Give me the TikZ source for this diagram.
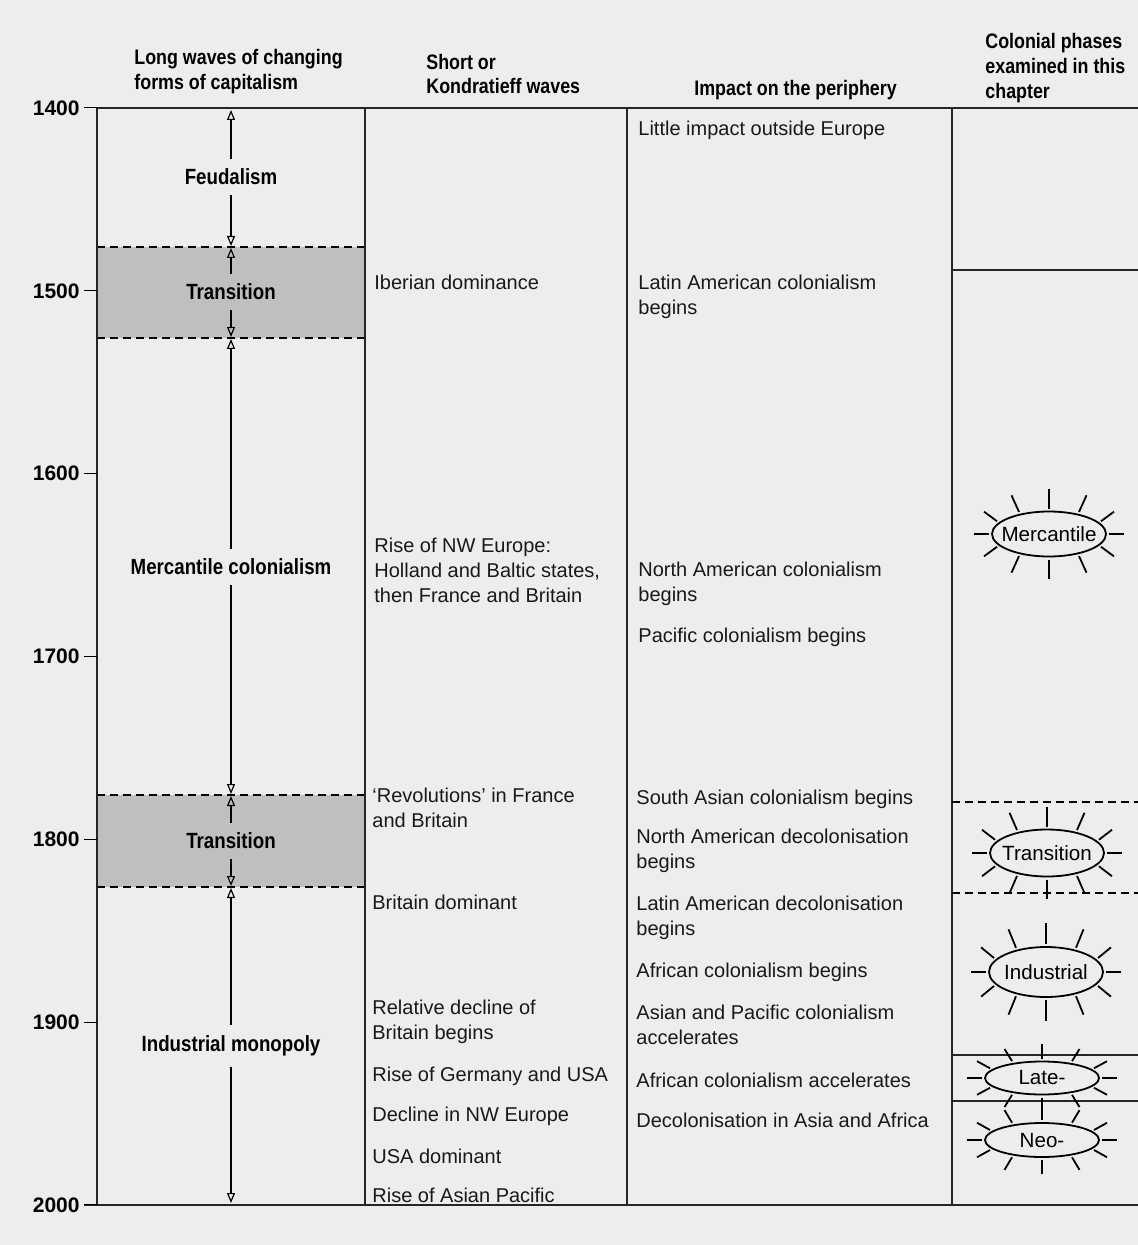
\documentclass[tikz,border=0pt]{standalone}
\usepackage{fontspec}
\setmainfont{Liberation Sans}
\newfontfamily\condfont[FakeStretch=0.85]{Liberation Sans}
\usetikzlibrary{arrows.meta}

\def\colA{97}
\def\colB{365}
\def\colC{627}
\def\colD{952}
\def\edgeR{1138}
\def\wavex{231}

\tikzset{
  my head/.style={font=\condfont\bfseries\fontsize{10.5}{12.5}\selectfont,align=left,anchor=west,inner sep=0pt},
  my year/.style={font=\bfseries\fontsize{10.5}{12}\selectfont,anchor=east,inner sep=0pt},
  my wave/.style={font=\condfont\bfseries\fontsize{11}{13}\selectfont,inner sep=5pt},
  my event/.style={font=\fontsize{10}{12.5}\selectfont,align=left,anchor=west,inner sep=0pt,text=black!90},
  my rule/.style={line width=0.8pt,black!85},
  my dash/.style={line width=0.6pt,dash pattern=on 4pt off 2.5pt},
  my arrow/.style={line width=0.6pt,-{Triangle[open,length=5pt,width=4pt]}},
  my phase/.style={line width=0.9pt},
  my phase text/.style={font=\fontsize{10.3}{12}\selectfont,inner sep=0pt}
}

% name, centre, y radius, label
\newcommand\phase[4]{%
  \node[my phase text] (#1) at (#2) {#4};
  \draw[my phase] (#1.center) ellipse [x radius=57,y radius=#3];
  \pgfmathsetmacro\rin{#3+3}
  \pgfmathsetmacro\rout{#3+3+0.85*#3}
  \foreach \t in {0,30,...,330}
    \draw[my phase] ([shift={(#1.center)}]\t:60 and \rin) -- ([shift={(#1.center)}]\t:75 and \rout);
}

\begin{document}
\begin{tikzpicture}[x=0.5pt,y=-0.5pt]
\useasboundingbox (0,0) rectangle (\edgeR,1245);
% paper
\fill[black!7] (0,0) rectangle (\edgeR,1245);
% transitions
\foreach \a/\b in {247/338,795/887}
{
  \fill[black!25] (\colA,\a) rectangle (\colB,\b);
  \draw[my dash] (\colA,\a) -- (\colB,\a) (\colA,\b) -- (\colB,\b);
}
% column rules
\foreach \x in {\colA,\colB,\colC,\colD}
  \draw[my rule] (\x,108) -- (\x,1205);
\draw[my rule] (\colA,108) -- (\edgeR,108);
\draw[my rule] (84,1205) -- (\edgeR,1205);
\draw[my rule] (\colD,270) -- (\edgeR,270);
\draw[my dash] (\colD,802) -- (\edgeR,802) (\colD,893) -- (\edgeR,893);
\draw[my rule] (\colD,1055) -- (\edgeR,1055) (\colD,1101) -- (\edgeR,1101);
% years
\foreach \yr in {1400,1500,...,2000}
{
  \pgfmathsetmacro\ypos{108+(\yr-1400)*1.8283}
  \node[my year] (y\yr) at (80,\ypos) {\yr};
  \draw[line width=0.5pt] (84,\ypos) -- (\colA,\ypos);
}
% headings
\node[my head] (hwave) at (134,72) {Long waves of changing\\forms of capitalism};
\node[my head] (hshort) at (426,74) {Short or\\Kondratieff waves};
\node[my head] (himpact) at (694,90) {Impact on the periphery};
\node[my head] (hphase) at (985,68) {Colonial phases\\examined in this\\chapter};
% long waves
\node[my wave] (feud) at (\wavex,177) {Feudalism};
\node[my wave] (trans1) at (\wavex,292) {Transition};
\node[my wave] (merc) at (\wavex,567) {Mercantile colonialism};
\node[my wave] (trans2) at (\wavex,841) {Transition};
\node[my wave] (indus) at (\wavex,1046) {Industrial monopoly};
\coordinate (b0) at (\wavex,110);
\coordinate (b1) at (\wavex,246);
\coordinate (b2) at (\wavex,248);
\coordinate (b3) at (\wavex,337);
\coordinate (b4) at (\wavex,339);
\coordinate (b5) at (\wavex,794);
\coordinate (b6) at (\wavex,796);
\coordinate (b7) at (\wavex,886);
\coordinate (b8) at (\wavex,888);
\coordinate (b9) at (\wavex,1203);
\foreach \n/\u/\d in {feud/b0/b1,trans1/b2/b3,merc/b4/b5,trans2/b6/b7,indus/b8/b9}
{
  \draw[my arrow] (\n) -- (\u);
  \draw[my arrow] (\n) -- (\d);
}
% short waves
\node[my event] (iber) at (374,282) {Iberian dominance};
\node[my event] (nweur) at (374,570) {Rise of NW Europe:\\Holland and Baltic states,\\then France and Britain};
\node[my event] (revol) at (372,808) {‘Revolutions’ in France\\and Britain};
\node[my event] (britdom) at (372,902) {Britain dominant};
\node[my event] (britdec) at (372,1022) {Relative decline of\\Britain begins};
\node[my event] (germ) at (372,1076) {Rise of Germany and USA};
\node[my event] (nwdec) at (372,1116) {Decline in NW Europe};
\node[my event] (usadom) at (372,1156) {USA dominant};
\node[my event] (asia) at (372,1195) {Rise of Asian Pacific};
% periphery
\node[my event] (little) at (638,130) {Little impact outside Europe};
\node[my event] (latcol) at (638,297) {Latin American colonialism\\begins};
\node[my event] (nacol) at (638,584) {North American colonialism\\begins};
\node[my event] (paccol) at (638,637) {Pacific colonialism begins};
\node[my event] (sacol) at (636,799) {South Asian colonialism begins};
\node[my event] (nadec) at (636,851) {North American decolonisation\\begins};
\node[my event] (latdec) at (636,918) {Latin American decolonisation\\begins};
\node[my event] (afcol) at (636,972) {African colonialism begins};
\node[my event] (apcol) at (636,1025) {Asian and Pacific colonialism\\accelerates};
\node[my event] (afacc) at (636,1080) {African colonialism accelerates};
\node[my event] (decol) at (636,1120) {Decolonisation in Asia and Africa};
% colonial phases
\phase{pmerc}{1049,534}{22.5}{Mercantile}
\phase{ptrans}{1047,853}{23.5}{Transition}
\phase{pind}{1046,972}{25}{Industrial}
\phase{plate}{1042,1078}{16.5}{Late-}
\phase{pneo}{1042,1140}{17}{Neo-}
\end{tikzpicture}
\end{document}
